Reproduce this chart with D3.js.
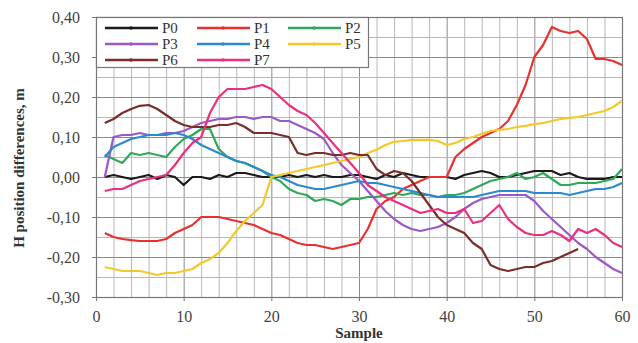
<!DOCTYPE html>
<html><head><meta charset="utf-8">
<script src="https://cdn.jsdelivr.net/npm/d3@7"></script>
<style>body{margin:0;background:#fff}svg{display:block}</style>
</head><body><svg id="c" width="638" height="343"></svg>
<script>
const samples = d3.range(1, 61);
const seriesNames = ["P0","P1","P2","P3","P4","P5","P6","P7"];
const seriesColors = ["#1a1a1a","#e8312f","#2fa85a","#9b59c6","#2a8ad0","#f5c829","#7a2e2a","#ec2f7c"];
const yTicks = [-0.3,-0.2,-0.1,0,0.1,0.2,0.3,0.4];
const xTicks = [0,10,20,30,40,50,60];

const P0 = [0,0.005,0,-0.005,0,0.005,-0.005,0.005,0,-0.02,0,0,-0.005,0.005,0,0.01,0.01,0.005,0,0,
 0,0.005,0,0.005,0,0.005,0,0,0.005,0.005,0,-0.005,0.005,0,0.01,0.005,0,0,0,0,
 -0.005,0.005,0.01,0.015,0.01,0,0,0.005,0.01,0.015,0.015,0.015,0.005,0.01,0,-0.005,-0.005,-0.005,0,0];
const P1 = [-0.14,-0.15,-0.155,-0.158,-0.16,-0.16,-0.16,-0.155,-0.14,-0.13,-0.12,-0.1,-0.1,-0.1,-0.105,-0.11,-0.115,-0.12,-0.13,-0.14,
 -0.145,-0.155,-0.165,-0.17,-0.17,-0.175,-0.18,-0.175,-0.17,-0.165,-0.13,-0.08,-0.06,-0.05,-0.03,-0.02,-0.01,0,0,0,
 0.05,0.07,0.085,0.1,0.11,0.12,0.14,0.18,0.23,0.3,0.33,0.375,0.365,0.36,0.365,0.345,0.295,0.295,0.29,0.28];
const P2 = [0.055,0.045,0.035,0.06,0.055,0.06,0.055,0.05,0.075,0.095,0.105,0.12,0.12,0.07,0.05,0.04,0.035,0.025,0.015,0,
 -0.01,-0.03,-0.04,-0.045,-0.06,-0.055,-0.06,-0.07,-0.055,-0.055,-0.05,-0.05,-0.045,-0.04,-0.045,-0.04,-0.045,-0.045,-0.05,-0.045,
 -0.045,-0.04,-0.03,-0.02,-0.01,-0.005,0,0.01,-0.005,0,0.01,-0.005,-0.02,-0.02,-0.015,-0.015,-0.015,-0.01,-0.005,0.02];
const P3 = [0,0.1,0.105,0.105,0.11,0.105,0.105,0.11,0.11,0.115,0.125,0.135,0.14,0.145,0.145,0.15,0.15,0.145,0.15,0.15,
 0.14,0.14,0.13,0.12,0.11,0.095,0.06,0.03,0.01,-0.01,-0.035,-0.06,-0.085,-0.105,-0.12,-0.13,-0.135,-0.13,-0.125,-0.115,
 -0.1,-0.08,-0.065,-0.055,-0.05,-0.045,-0.045,-0.045,-0.045,-0.06,-0.085,-0.105,-0.125,-0.145,-0.165,-0.18,-0.2,-0.215,-0.23,-0.24];
const P4 = [0.05,0.075,0.085,0.095,0.1,0.105,0.105,0.105,0.11,0.105,0.095,0.08,0.07,0.06,0.05,0.04,0.035,0.025,0.015,0.005,
 0,-0.01,-0.02,-0.025,-0.03,-0.03,-0.025,-0.02,-0.015,-0.01,-0.015,-0.015,-0.02,-0.025,-0.03,-0.035,-0.04,-0.045,-0.05,-0.05,
 -0.05,-0.05,-0.05,-0.045,-0.04,-0.035,-0.035,-0.035,-0.035,-0.04,-0.04,-0.04,-0.04,-0.045,-0.04,-0.035,-0.03,-0.03,-0.025,-0.015];
const P5 = [-0.225,-0.23,-0.235,-0.235,-0.235,-0.24,-0.245,-0.24,-0.24,-0.235,-0.23,-0.215,-0.205,-0.19,-0.165,-0.135,-0.11,-0.09,-0.07,0,
 0.005,0.01,0.015,0.02,0.025,0.03,0.035,0.04,0.045,0.05,0.06,0.068,0.08,0.088,0.09,0.093,0.093,0.093,0.09,0.08,
 0.085,0.095,0.1,0.108,0.115,0.118,0.12,0.125,0.128,0.132,0.135,0.14,0.145,0.148,0.15,0.155,0.16,0.165,0.175,0.19];
const P6 = [0.135,0.145,0.16,0.17,0.178,0.18,0.17,0.155,0.14,0.13,0.125,0.125,0.125,0.13,0.13,0.135,0.125,0.11,0.11,0.11,
 0.105,0.1,0.06,0.055,0.06,0.06,0.055,0.055,0.06,0.055,0.055,0.02,0.005,0.015,0.01,-0.01,-0.04,-0.07,-0.1,-0.12,
 -0.13,-0.14,-0.165,-0.18,-0.22,-0.23,-0.235,-0.23,-0.225,-0.225,-0.215,-0.21,-0.2,-0.19,-0.18,null,null,null,null,null];
const P7 = [-0.035,-0.03,-0.03,-0.02,-0.01,-0.005,0,0.005,0.03,0.06,0.085,0.1,0.16,0.2,0.22,0.22,0.22,0.225,0.23,0.22,
 0.2,0.18,0.165,0.155,0.135,0.11,0.085,0.06,0.035,0.01,-0.02,-0.035,-0.05,-0.06,-0.07,-0.08,-0.09,-0.085,-0.08,-0.09,
 -0.09,-0.08,-0.115,-0.11,-0.09,-0.07,-0.105,-0.125,-0.14,-0.145,-0.145,-0.135,-0.145,-0.16,-0.13,-0.14,-0.13,-0.145,-0.165,-0.175];
const seriesValues = [P0,P1,P2,P3,P4,P5,P6,P7];

const FONT = "'Liberation Serif', 'Times New Roman', serif";
const svg = d3.select("#c");
const L = 96, R = 622, T = 17, B = 297;
const x = d3.scaleLinear().domain([0,60]).range([L,R]);
const y = d3.scaleLinear().domain([-0.3,0.4]).range([B,T]);

// grid
const g = svg.append("g");
g.selectAll("line.vx").data(d3.range(0,61,2)).join("line")
 .attr("x1",d=>x(d)+0.5).attr("x2",d=>x(d)+0.5).attr("y1",T).attr("y2",B)
 .attr("stroke",d=>d%10===0?"#8a8a8a":"#b8b8b8").attr("stroke-width",1);
g.selectAll("line.hy").data(d3.range(-6,9).map(d=>d*0.05)).join("line")
 .attr("y1",d=>Math.round(y(d))+0.5).attr("y2",d=>Math.round(y(d))+0.5).attr("x1",L).attr("x2",R)
 .attr("stroke",(d,i)=>i%2===0?"#8a8a8a":"#b8b8b8").attr("stroke-width",1);
svg.append("rect").attr("x",L+0.5).attr("y",T+0.5).attr("width",R-L).attr("height",B-T)
 .attr("fill","none").attr("stroke","#777").attr("stroke-width",1.2);

// axes
const fmt = d => d3.format(".2f")(d).replace(".",",").replace("−","-");
const ya = svg.append("g").attr("transform",`translate(${L},0)`)
 .call(d3.axisLeft(y).tickValues(yTicks).tickFormat(fmt).tickSize(4).tickPadding(12));
const xa = svg.append("g").attr("transform",`translate(0,${B})`)
 .call(d3.axisBottom(x).tickValues(xTicks).tickFormat(d3.format("d")).tickSize(4).tickPadding(10));
[ya,xa].forEach(a=>{a.attr("font-family",null).attr("font-size",null);
 a.select(".domain").remove();a.selectAll(".tick line").attr("stroke","#777");
 a.selectAll("text").style("font-family",FONT).style("font-size","16px").attr("fill","#444");});

svg.append("text").attr("x",(L+R)/2).attr("y",338).attr("text-anchor","middle")
 .style("font-family",FONT).style("font-weight","bold").style("font-size","15px").attr("fill","#333").text("Sample");
svg.append("text").attr("transform","translate(24,168) rotate(-90)").attr("text-anchor","middle")
 .style("font-family",FONT).style("font-weight","bold").style("font-size","15px").attr("fill","#333").text("H position differences, m");

// lines
const line = d3.line().defined(d=>d[1]!==null).x(d=>x(d[0])).y(d=>y(d[1]));
seriesValues.forEach((vals,i)=>{
 const pts = samples.map((s,j)=>[s,vals[j]]);
 svg.append("path").datum(pts).attr("d",line).attr("fill","none")
  .attr("stroke",seriesColors[i]).attr("stroke-width",2.2).attr("stroke-linejoin","round");
});

// legend
const lg = svg.append("g");
lg.append("rect").attr("x",L+0.5).attr("y",T+0.5).attr("width",272).attr("height",50)
 .attr("fill","#fff").attr("stroke","#777").attr("stroke-width",1.2);
const colX = [105,197,288], rowY = [28,44,60];
seriesNames.forEach((n,i)=>{
 const cx = colX[i%3], cy = rowY[Math.floor(i/3)];
 lg.append("line").attr("x1",cx).attr("x2",cx+53).attr("y1",cy).attr("y2",cy)
  .attr("stroke",seriesColors[i]).attr("stroke-width",2.4);
 lg.append("circle").attr("cx",cx+26).attr("cy",cy).attr("r",1.8).attr("fill",seriesColors[i]);
 lg.append("text").attr("x",cx+57).attr("y",cy+5).style("font-family",FONT).style("font-size","15px").attr("fill","#333").text(n);
});
</script></body></html>
